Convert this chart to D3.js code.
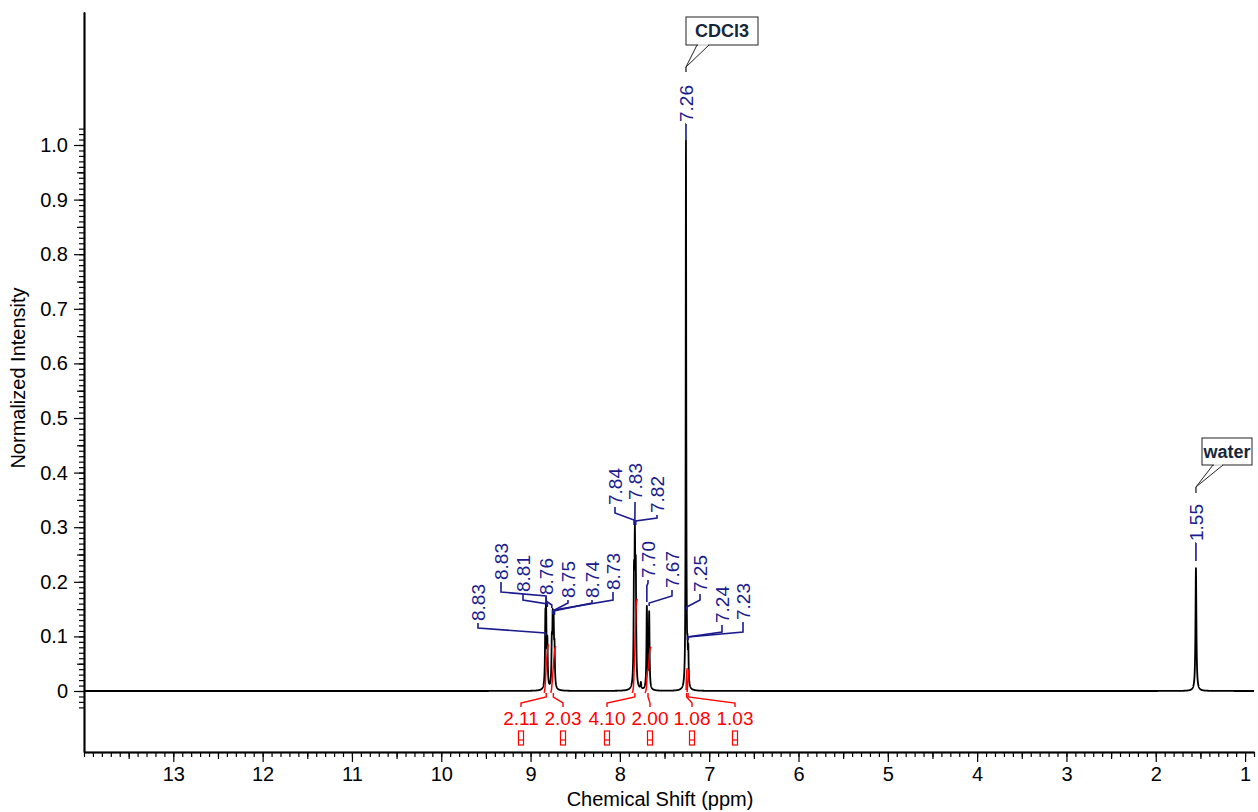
<!DOCTYPE html>
<html><head><meta charset="utf-8">
<script src="https://cdn.jsdelivr.net/npm/d3@7/dist/d3.min.js"></script>
<style>
body{margin:0;background:#fff}
svg{display:block}
text{font-family:"Liberation Sans",Arial,sans-serif}
</style>
</head><body>
<svg id="c" width="1258" height="812"></svg>
<script>
// ---------------- DATA ----------------
const peakPpm    = [8.834, 8.826, 8.812, 8.762, 8.752, 8.742, 8.732, 7.842, 7.832, 7.822, 7.765, 7.698, 7.672, 7.260, 7.252, 7.243, 7.234, 1.550];
const peakHeight = [0.110, 0.120, 0.080, 0.075, 0.110, 0.100, 0.065, 0.180, 0.230, 0.190, 0.012, 0.150, 0.140, 1.000, 0.020, 0.050, 0.060, 0.225];
const peakHalfWidth = [0.005, 0.005, 0.005, 0.005, 0.005, 0.005, 0.005, 0.005, 0.005, 0.005, 0.005, 0.005, 0.005, 0.0035, 0.004, 0.004, 0.004, 0.006];

const labelText = ["8.83","8.83","8.81","8.76","8.75","8.74","8.73","7.84","7.83","7.82","7.70","7.67","7.26","7.25","7.24","7.23","1.55"];
const labelPpm  = [8.834, 8.826, 8.812, 8.762, 8.752, 8.742, 8.732, 7.842, 7.832, 7.822, 7.698, 7.672, 7.260, 7.252, 7.243, 7.234, 1.550];

const integralValues = [2.11, 2.03, 4.10, 2.00, 1.08, 1.03];
const integralFrom   = [8.850, 8.775, 7.860, 7.720, 7.258, 7.247];
const integralTo     = [8.800, 8.715, 7.805, 7.650, 7.247, 7.225];

const xMajorTicks = [13, 12, 11, 10, 9, 8, 7, 6, 5, 4, 3, 2, 1];
const yMajorTicks = [0, 0.1, 0.2, 0.3, 0.4, 0.5, 0.6, 0.7, 0.8, 0.9, 1.0];
const yTickLabels = ["0","0.1","0.2","0.3","0.4","0.5","0.6","0.7","0.8","0.9","1.0"];

const calloutText = ["CDCl3", "water"];
const calloutPpm  = [7.26, 1.55];

// ---------------- LAYOUT (pixels) ----------------
// per peak label: [labelX, textBottom, kneeY, joinY, endY]
const labelLayout = [
  [478, 621, 628, 633, 636],
  [501, 580, 592, 596, 603],
  [523, 592, 600, 604, 607],
  [546, 595, 601, 605, 608],
  [568, 598, 603, 611, 614],
  [592, 598, 603, 611, 614],
  [613, 590, 600, 610, 615],
  [615, 505, 513, 520, 525],
  [635, 500, 506, 520, 525],
  [657, 513, 518, 521, 525],
  [648, 578, 583, 586, 602],
  [672, 588, 596, 603, 606],
  [686, 122, 124, 124, 140],
  [700, 592, 600, 607, 610],
  [722, 623, 632, 637, 640],
  [743, 620, 632, 637, 640],
  [1196, 541, 543, 543, 561]
];
const integralLabelX = [521, 563, 607, 650, 692, 735];
// callout boxes: [x, y, w, h, tailX1, tailX2, tipY, stemEndY]
const calloutLayout = [
  [686, 17, 72, 28, 697, 709, 67, 72],
  [1202, 438, 50, 27, 1213, 1223, 487, 493]
];

const svg = d3.select("#c");
const blue = "#1b1b8e", red = "#ff0000";

const x = d3.scaleLinear().domain([14.0, 0.9]).range([84, 1254]);
const yb = d3.scaleLinear().domain([0, 1]).range([691, 145]);
const y = d3.scaleLinear().domain([yb.invert(752), yb.invert(12)]).range([752, 12]);

// ---------------- spectrum ----------------
function spec(p) {
  let s = 0;
  for (let i = 0; i < peakPpm.length; i++) {
    const d = (p - peakPpm[i]) / peakHalfWidth[i];
    s += peakHeight[i] / (1 + d * d);
  }
  return s;
}
const pts = [];
for (let k = 14000; k >= 900; k--) { const p = k / 1000; pts.push([p, spec(p)]); }

svg.append("path")
  .attr("d", d3.line().x(d => x(d[0])).y(d => y(d[1]))(pts))
  .attr("fill", "none").attr("stroke", "#000").attr("stroke-width", 1.8)
  .attr("stroke-linejoin", "round");

// ---------------- integrals ----------------
const intScale = 23; // px per unit
integralValues.forEach((v, i) => {
  const a = integralFrom[i], b = integralTo[i];
  const ps = [];
  for (let p = a; p >= b - 1e-9; p -= 0.0005) ps.push(p);
  let cum = 0; const cs = ps.map(p => (cum += spec(p)));
  const tot = cum;
  const line = ps.map((p, j) => [x(p), 693 - cs[j] / tot * v * intScale]);
  svg.append("path").attr("d", d3.line()(line))
    .attr("fill", "none").attr("stroke", red).attr("stroke-width", 1.5);
  const jx = x((a + b) / 2), lx = integralLabelX[i];
  svg.append("path").attr("d", `M${lx},707 V703 L${jx},697 V693`)
    .attr("fill", "none").attr("stroke", red).attr("stroke-width", 1.4);
  svg.append("text").attr("x", lx).attr("y", 725).attr("text-anchor", "middle")
    .attr("font-size", 19).attr("fill", red).text(v.toFixed(2));
  const g = svg.append("g").attr("fill", "none").attr("stroke", red).attr("stroke-width", 1.2);
  g.append("rect").attr("x", lx - 2.5).attr("y", 731).attr("width", 5).attr("height", 14);
  g.append("line").attr("x1", lx - 2.5).attr("x2", lx + 2.5).attr("y1", 740).attr("y2", 740);
});

// ---------------- peak labels ----------------
labelText.forEach((t, i) => {
  const [lx, tb, knee, join, end] = labelLayout[i];
  const px = x(labelPpm[i]);
  svg.append("path")
    .attr("d", `M${lx},${tb + 2} V${knee} L${px},${join} V${end}`)
    .attr("fill", "none").attr("stroke", blue).attr("stroke-width", 1.6);
  svg.append("text")
    .attr("transform", `translate(${lx},${tb}) rotate(-90)`)
    .attr("dy", "0.36em").attr("font-size", 19).attr("fill", blue).text(t);
});

// ---------------- callouts ----------------
calloutText.forEach((t, i) => {
  const [bx, by, bw, bh, t1, t2, tipY, stemY] = calloutLayout[i];
  const px = x(calloutPpm[i]);
  const g = svg.append("g");
  g.append("path").attr("d", `M${t1},${by + bh} L${px},${tipY} L${t2},${by + bh} Z`)
    .attr("fill", "#fff").attr("stroke", "#222").attr("stroke-width", 1);
  g.append("rect").attr("x", bx).attr("y", by).attr("width", bw).attr("height", bh)
    .attr("fill", "#fff").attr("stroke", "#222").attr("stroke-width", 1);
  g.append("line").attr("x1", t1 + 1).attr("x2", t2 - 1).attr("y1", by + bh).attr("y2", by + bh)
    .attr("stroke", "#fff").attr("stroke-width", 1.5);
  g.append("line").attr("x1", px).attr("x2", px).attr("y1", tipY).attr("y2", stemY)
    .attr("stroke", "#222").attr("stroke-width", 1.3);
  g.append("text").attr("x", bx + bw / 2).attr("y", by + bh / 2).attr("dy", "0.36em")
    .attr("text-anchor", "middle").attr("font-weight", "bold").attr("font-size", 18)
    .attr("fill", "#16263a").text(t);
});

// ---------------- axes ----------------
const xMinor = d3.range(9, 141).map(k => k / 10);
const xMid = d3.range(15, 140, 10).map(k => k / 10);
function styleAxis(g) {
  g.selectAll("line").attr("stroke", "#000").attr("stroke-width", 1.2);
  g.selectAll("path").attr("stroke", "#000").attr("stroke-width", 1.5);
  g.selectAll("text").attr("font-family", "Liberation Sans, Arial, sans-serif").attr("fill", "#000");
}
const gx = svg.append("g").attr("transform", "translate(0,752)");
gx.append("g").call(d3.axisBottom(x).tickValues(xMinor).tickSize(5).tickFormat("").tickSizeOuter(0)).call(styleAxis);
gx.append("g").call(d3.axisBottom(x).tickValues(xMid).tickSize(7).tickFormat("").tickSizeOuter(0)).call(styleAxis);
gx.append("g").call(d3.axisBottom(x).tickValues(xMajorTicks).tickSize(10).tickPadding(5).tickFormat(d3.format("d")).tickSizeOuter(0))
  .call(styleAxis).attr("font-size", 20);

const yMinor = d3.range(-3, 104).map(k => k / 100);
const yMid = d3.range(5, 100, 10).map(k => k / 100);
const gy = svg.append("g").attr("transform", "translate(84,0)");
gy.append("g").call(d3.axisLeft(y).tickValues(yMinor).tickSize(5).tickFormat("").tickSizeOuter(0)).call(styleAxis);
gy.append("g").call(d3.axisLeft(y).tickValues(yMid).tickSize(7).tickFormat("").tickSizeOuter(0)).call(styleAxis);
gy.append("g").call(d3.axisLeft(y).tickValues(yMajorTicks).tickSize(10).tickPadding(6)
  .tickFormat((d, i) => yTickLabels[i]).tickSizeOuter(0)).call(styleAxis).attr("font-size", 20);

svg.append("text").attr("x", 660).attr("y", 806).attr("text-anchor", "middle")
  .attr("font-size", 20).attr("fill", "#000").text("Chemical Shift (ppm)");
svg.append("text").attr("transform", "translate(25,378) rotate(-90)").attr("text-anchor", "middle")
  .attr("font-size", 20).attr("fill", "#000").text("Normalized Intensity");
</script>
</body></html>
